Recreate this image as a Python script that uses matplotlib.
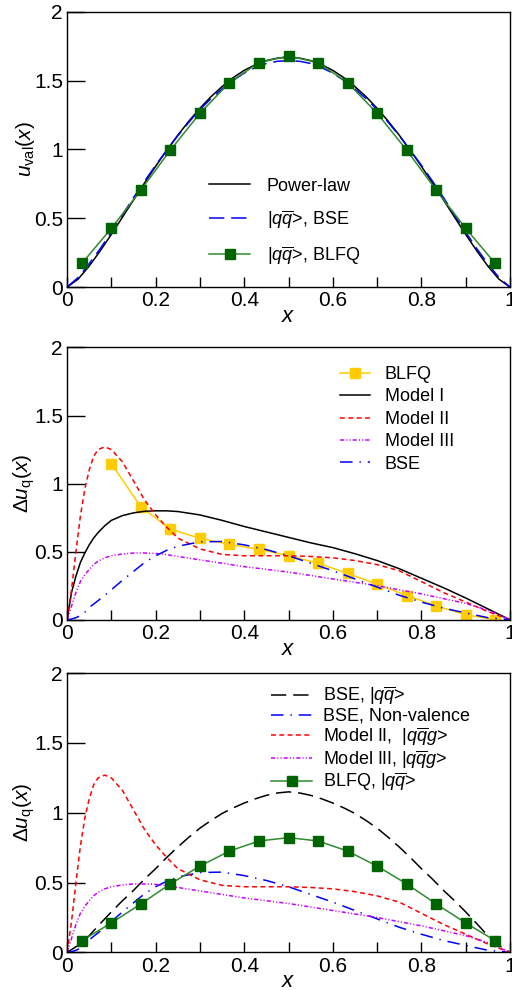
import numpy as np
import matplotlib
matplotlib.use("Agg")
import matplotlib.pyplot as plt

plt.rcParams['font.family'] = ['Liberation Sans', 'DejaVu Sans']
plt.rcParams['mathtext.fontset'] = 'custom'
plt.rcParams['mathtext.rm'] = 'Liberation Sans'
plt.rcParams['mathtext.it'] = 'Liberation Sans:italic'
plt.rcParams['lines.scale_dashes'] = False

# ---- data ----
# BLFQ points sit at x = (2k-1)/30
x_blfq = [1/30, 3/30, 5/30, 7/30, 9/30, 11/30, 13/30, 15/30,
          17/30, 19/30, 21/30, 23/30, 25/30, 27/30, 29/30]

# panel 1: valence PDF
x_pl = [0, 0.025, 0.05, 0.075, 0.1, 0.125, 0.15, 0.175, 0.2, 0.225, 0.25, 0.275, 0.3, 0.325,
        0.35, 0.375, 0.4, 0.425, 0.45, 0.475, 0.5,
        0.525, 0.55, 0.575, 0.6, 0.625, 0.65, 0.675, 0.7, 0.725, 0.75, 0.775, 0.8, 0.825,
        0.85, 0.875, 0.9, 0.925, 0.95, 0.975, 1.0]
u_powerlaw = [0, 0.058, 0.153, 0.264, 0.383, 0.508, 0.633, 0.757, 0.878, 0.994, 1.104, 1.206, 1.30, 1.384,
              1.457, 1.522, 1.575, 1.616, 1.646, 1.664, 1.67,
              1.664, 1.646, 1.616, 1.575, 1.522, 1.457, 1.384, 1.30, 1.206, 1.104, 0.994, 0.878, 0.757,
              0.633, 0.508, 0.383, 0.264, 0.153, 0.058, 0]
u_bse = [0, 0.07, 0.17, 0.28, 0.40, 0.525, 0.65, 0.77, 0.885, 0.995, 1.10, 1.198, 1.29, 1.37,
         1.44, 1.502, 1.555, 1.595, 1.625, 1.641, 1.645,
         1.641, 1.625, 1.595, 1.555, 1.502, 1.44, 1.37, 1.29, 1.198, 1.10, 0.995, 0.885, 0.77,
         0.65, 0.525, 0.40, 0.28, 0.17, 0.07, 0]
u_blfq = [0.172, 0.427, 0.705, 0.996, 1.263, 1.486, 1.631, 1.68,
          1.631, 1.486, 1.263, 0.996, 0.705, 0.427, 0.172]

# panel 2 / 3: helicity PDFs
x_m = [0, 0.01, 0.02, 0.03, 0.04, 0.05, 0.06, 0.07, 0.085, 0.1, 0.125, 0.15, 0.175, 0.2, 0.225,
       0.25, 0.3, 0.35, 0.4, 0.45, 0.5, 0.55, 0.6, 0.65, 0.7, 0.75, 0.8, 0.85, 0.9, 0.95, 1.0]
du_model1 = [0, 0.2, 0.32, 0.42, 0.49, 0.55, 0.6, 0.64, 0.69, 0.73, 0.765, 0.785, 0.797, 0.80, 0.80,
             0.795, 0.77, 0.73, 0.685, 0.645, 0.605, 0.565, 0.53, 0.485, 0.435, 0.375, 0.305, 0.235, 0.16, 0.08, 0]
du_model2 = [0, 0.22, 0.5, 0.76, 0.96, 1.1, 1.2, 1.25, 1.27, 1.25, 1.16, 1.02, 0.88, 0.77, 0.68,
             0.6, 0.52, 0.48, 0.47, 0.47, 0.47, 0.465, 0.455, 0.435, 0.405, 0.36, 0.28, 0.2, 0.13, 0.06, 0]
du_model3 = [0, 0.1, 0.2, 0.28, 0.33, 0.37, 0.405, 0.43, 0.455, 0.47, 0.483, 0.49, 0.49, 0.487, 0.478,
             0.465, 0.44, 0.415, 0.39, 0.37, 0.35, 0.325, 0.3, 0.275, 0.25, 0.22, 0.19, 0.155, 0.12, 0.07, 0]
du_bse = [0, 0.005, 0.015, 0.03, 0.055, 0.09, 0.115, 0.14, 0.18, 0.22, 0.29, 0.355, 0.42, 0.47, 0.51,
          0.54, 0.572, 0.575, 0.55, 0.515, 0.47, 0.415, 0.36, 0.3, 0.24, 0.18, 0.13, 0.085, 0.05, 0.015, 0]
x_bse_qq = [0, 0.025, 0.05, 0.075, 0.1, 0.125, 0.15, 0.175, 0.2, 0.225, 0.25, 0.275, 0.3, 0.325,
            0.35, 0.375, 0.4, 0.425, 0.45, 0.475, 0.5,
            0.525, 0.55, 0.575, 0.6, 0.625, 0.65, 0.675, 0.7, 0.725, 0.75, 0.775, 0.8, 0.825,
            0.85, 0.875, 0.9, 0.925, 0.95, 0.975, 1.0]
du_bse_qq = [0, 0.05, 0.12, 0.206, 0.29, 0.37, 0.444, 0.525, 0.60, 0.68, 0.755, 0.825, 0.89, 0.945,
             0.995, 1.035, 1.07, 1.10, 1.125, 1.142, 1.15,
             1.142, 1.125, 1.10, 1.07, 1.035, 0.995, 0.945, 0.89, 0.825, 0.755, 0.68, 0.60, 0.525,
             0.444, 0.37, 0.29, 0.206, 0.12, 0.05, 0]
du_blfq = [1.146, 0.829, 0.666, 0.598, 0.554, 0.517, 0.471,
           0.415, 0.341, 0.261, 0.178, 0.102, 0.037, 0.0]
du_blfq_qq = [0.084, 0.211, 0.347, 0.491, 0.618, 0.726, 0.798, 0.822,
              0.798, 0.726, 0.618, 0.491, 0.347, 0.211, 0.084]

GREEN_LINE = '#2e8b2e'
GREEN_MARK = '#006400'
GOLD = '#ffcc00'
MAGENTA = '#cc00ff'
LW = 1.1

dash_blue_long = (0, (11, 5))
dash_blue_dot = (0, (9, 5, 1, 5))
dash_red = (0, (3.5, 2.5))
dash_mag = (0, (3, 1.5, 0.8, 1.5, 0.8, 1.5))
dash_black_long = (0, (11, 5))


def style_axis(ax, ylabel):
    ax.set_xlim(0, 1)
    ax.set_ylim(0, 2)
    ax.set_xticks([0, 0.2, 0.4, 0.6, 0.8, 1.0])
    ax.set_xticklabels(['0', '0.2', '0.4', '0.6', '0.8', '1'])
    ax.set_xticks([0.1, 0.3, 0.5, 0.7, 0.9], minor=True)
    ax.set_yticks([0, 0.5, 1, 1.5, 2])
    ax.set_yticklabels(['0', '0.5', '1', '1.5', '2'])
    ax.tick_params(axis='both', which='both', direction='in', top=False, right=False,
                   labelsize=15, width=1.0, pad=3)
    ax.tick_params(axis='x', which='both', length=7)
    ax.tick_params(axis='y', which='major', length=13)
    for s in ax.spines.values():
        s.set_linewidth(1.0)
    ax.set_xlabel('$x$', fontsize=16, labelpad=-3)
    ax.set_ylabel(ylabel, fontsize=15, labelpad=-2)


fig = plt.figure(figsize=(5.12, 9.9), dpi=100)
ax1 = fig.add_axes([0.131, 0.710, 0.865, 0.278])
ax2 = fig.add_axes([0.131, 0.374, 0.865, 0.275])
ax3 = fig.add_axes([0.131, 0.038, 0.865, 0.282])

qq = r'$q\overline{q}$'
qqg = r'$q\overline{q}g$'

# panel 1
ax1.plot(x_pl, u_powerlaw, color='black', lw=LW, label='Power-law')
ax1.plot(x_pl, u_bse, color='blue', lw=LW, ls=dash_blue_long, label='|' + qq + '>, BSE')
ax1.plot(x_blfq, u_blfq, color=GREEN_LINE, lw=LW, marker='s', ms=7,
         mfc=GREEN_MARK, mec=GREEN_MARK, label='|' + qq + '>, BLFQ')
style_axis(ax1, r'$u_{\rm val}(x)$')
ax1.legend(loc='upper left', bbox_to_anchor=(0.30, 0.43), frameon=False, fontsize=13,
           handlelength=2.3, handletextpad=0.9, labelspacing=0.75, borderpad=0)

# panel 2
ax2.plot(x_blfq[1:], du_blfq, color=GOLD, lw=LW, marker='s', ms=7,
         mfc=GOLD, mec=GOLD, label='BLFQ')
ax2.plot(x_m, du_model1, color='black', lw=LW, label='Model I')
ax2.plot(x_m, du_model2, color='red', lw=LW, ls=dash_red, label='Model II')
ax2.plot(x_m, du_model3, color=MAGENTA, lw=LW, ls=dash_mag, label='Model III')
ax2.plot(x_m, du_bse, color='blue', lw=LW, ls=dash_blue_dot, label='BSE')
style_axis(ax2, r'$\Delta u_{\rm q}(x)$')
ax2.legend(loc='upper left', bbox_to_anchor=(0.595, 0.965), frameon=False, fontsize=13,
           handlelength=1.7, handletextpad=0.8, labelspacing=0.3, borderpad=0)

# panel 3
ax3.plot(x_bse_qq, du_bse_qq, color='black', lw=LW, ls=dash_black_long, label='BSE, |' + qq + '>')
ax3.plot(x_m, du_bse, color='blue', lw=LW, ls=dash_blue_dot, label='BSE, Non-valence')
ax3.plot(x_m, du_model2, color='red', lw=LW, ls=dash_red, label='Model II,  |' + qqg + '>')
ax3.plot(x_m, du_model3, color=MAGENTA, lw=LW, ls=dash_mag, label='Model III, |' + qqg + '>')
ax3.plot(x_blfq, du_blfq_qq, color=GREEN_LINE, lw=LW, marker='s', ms=7,
         mfc=GREEN_MARK, mec=GREEN_MARK, label='BLFQ, |' + qq + '>')
style_axis(ax3, r'$\Delta u_{\rm q}(x)$')
ax3.legend(loc='upper left', bbox_to_anchor=(0.44, 0.99), frameon=False, fontsize=13,
           handlelength=2.3, handletextpad=0.6, labelspacing=0.02, borderpad=0)

fig.savefig('out.png', dpi=100)
